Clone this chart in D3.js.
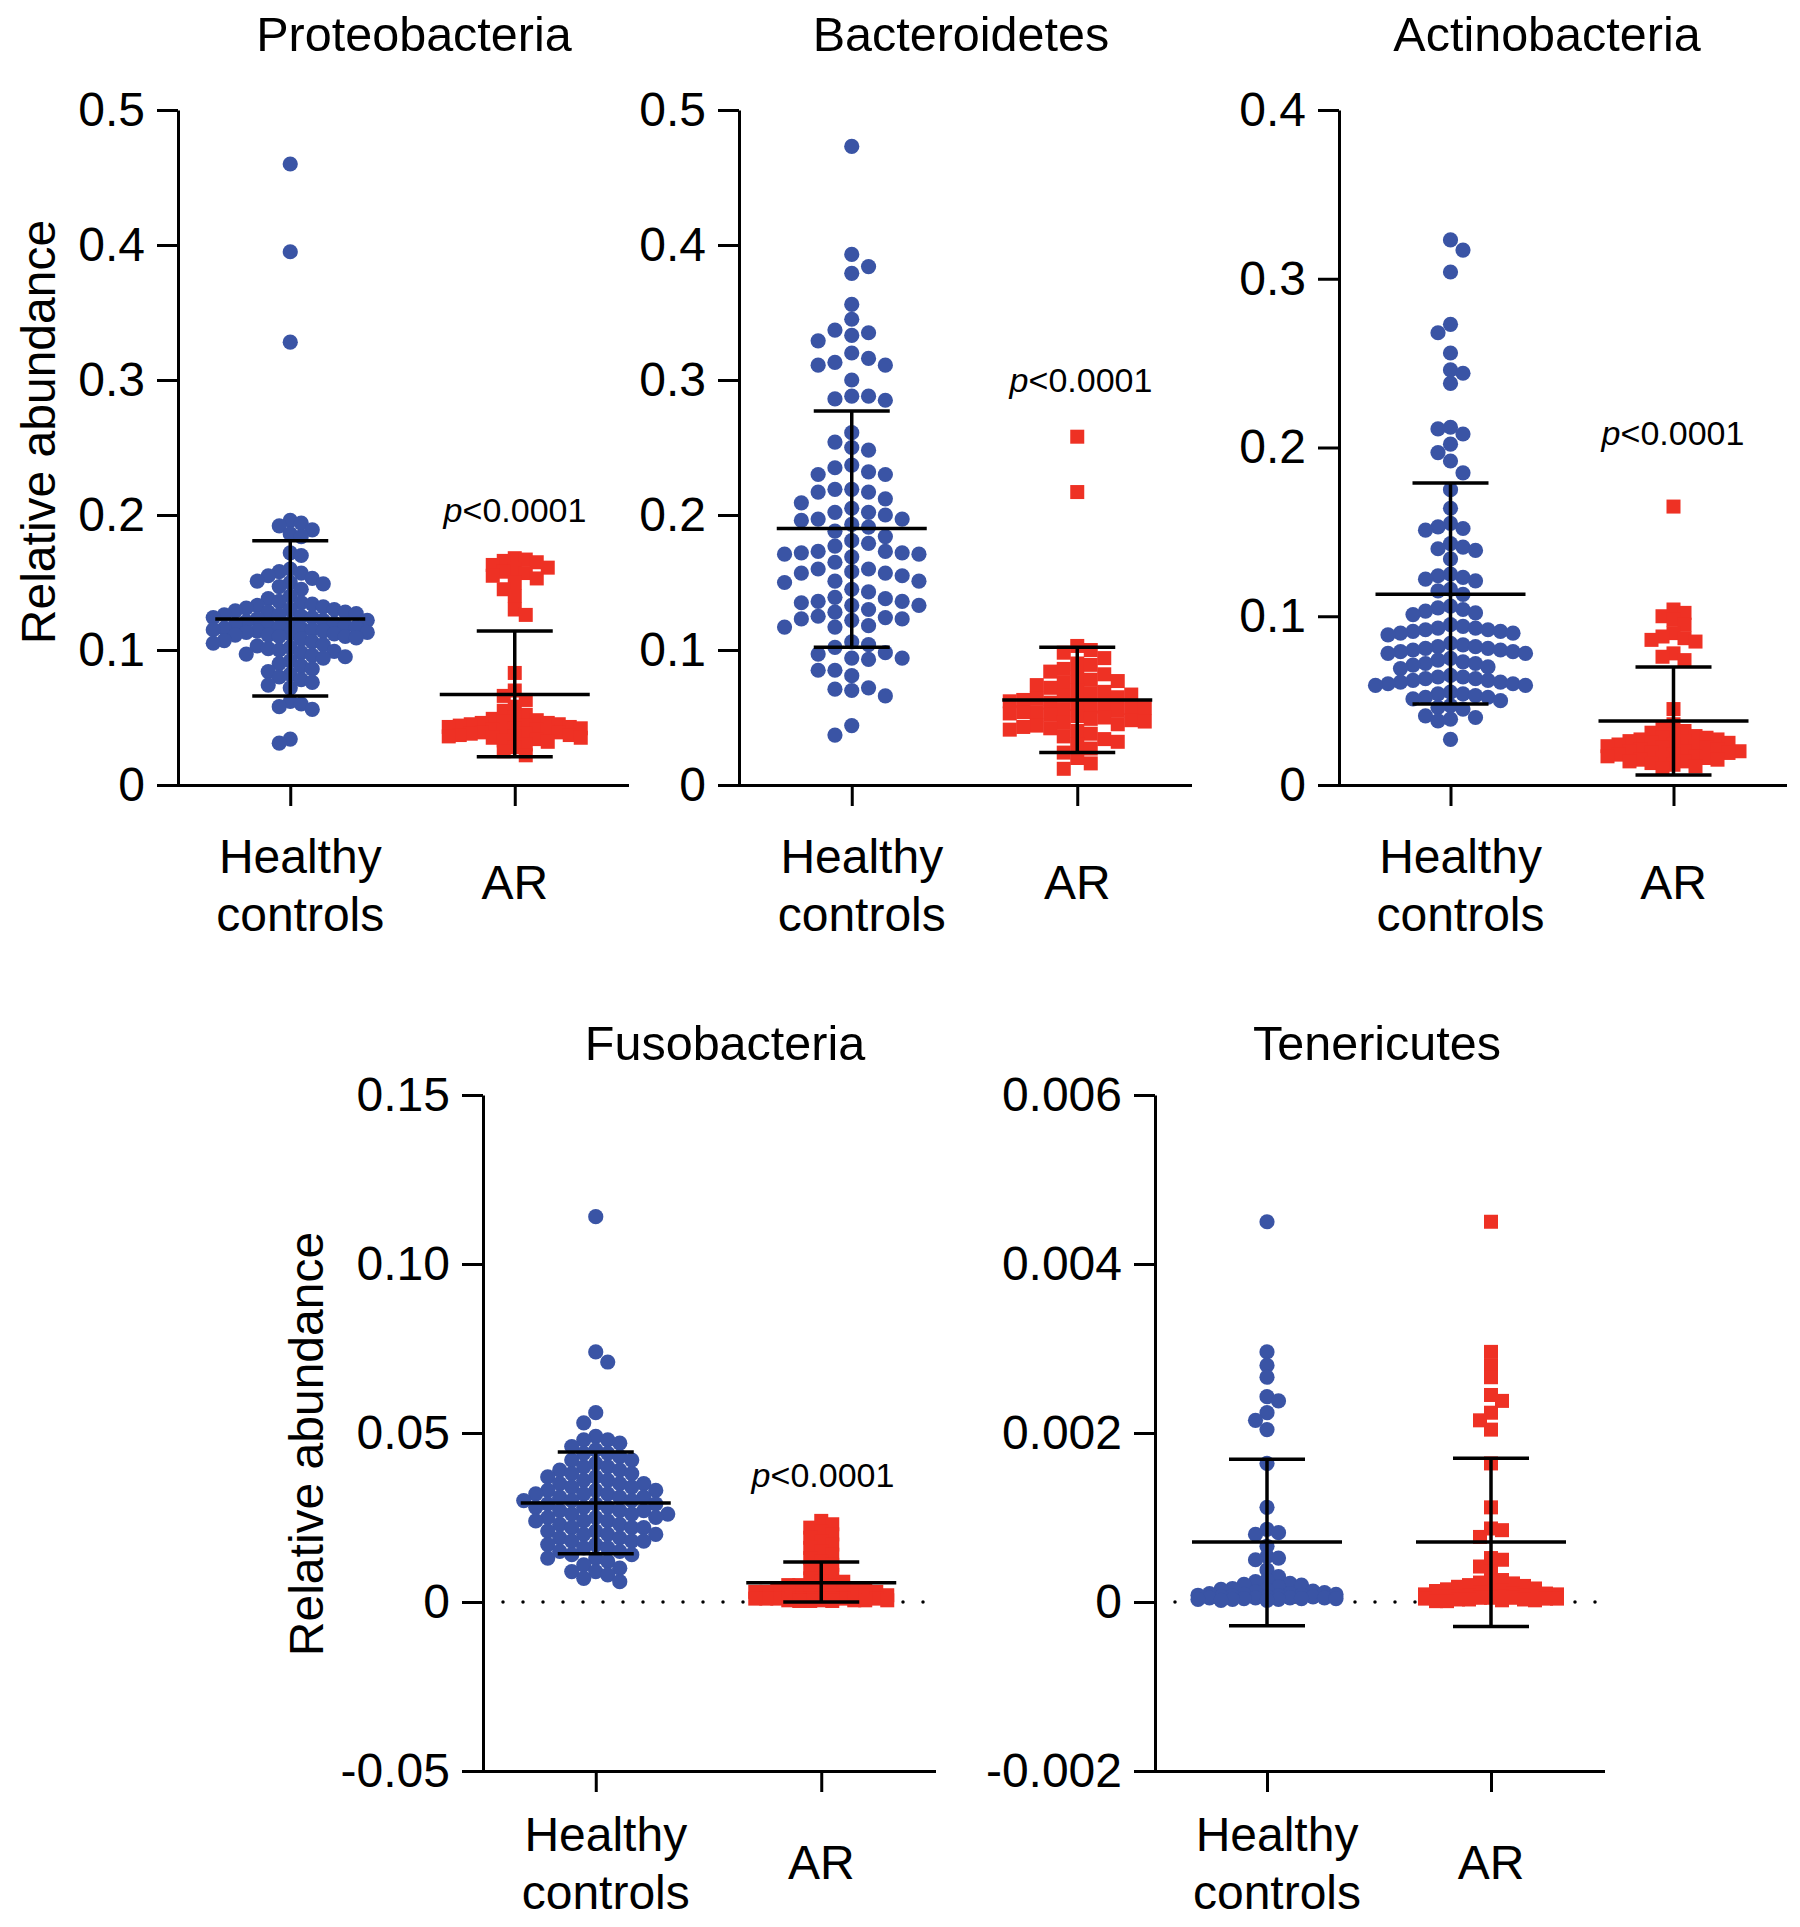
<!DOCTYPE html>
<html>
<head>
<meta charset="utf-8">
<script src="https://cdn.jsdelivr.net/npm/d3@7"></script>
<style>
  html, body { margin: 0; padding: 0; background: #fff; }
  svg { display: block; }
</style>
</head>
<body>
<script>
// ---------------- DATA ----------------
const categories = ["Healthy controls", "AR"];
const panelTitles = ["Proteobacteria", "Bacteroidetes", "Actinobacteria", "Fusobacteria", "Tenericutes"];
const yDomains = [[0, 0.5], [0, 0.5], [0, 0.4], [-0.05, 0.15], [-0.002, 0.006]];
const yTickValues = [
  [0, 0.1, 0.2, 0.3, 0.4, 0.5],
  [0, 0.1, 0.2, 0.3, 0.4, 0.5],
  [0, 0.1, 0.2, 0.3, 0.4],
  [-0.05, 0, 0.05, 0.10, 0.15],
  [-0.002, 0, 0.002, 0.004, 0.006]
];
const yTickLabels = [
  ["0", "0.1", "0.2", "0.3", "0.4", "0.5"],
  ["0", "0.1", "0.2", "0.3", "0.4", "0.5"],
  ["0", "0.1", "0.2", "0.3", "0.4"],
  ["-0.05", "0", "0.05", "0.10", "0.15"],
  ["-0.002", "0", "0.002", "0.004", "0.006"]
];
const pValueLabels = ["<0.0001", "<0.0001", "<0.0001", "<0.0001", null];
const yAxisTitle = "Relative abundance";

// mean and mean±SD: [Healthy controls, AR]
const meanValues  = [[0.123, 0.067], [0.190, 0.063], [0.113, 0.038], [0.0293, 0.0057], [0.00071, 0.00071]];
const sdUpper     = [[0.181, 0.114], [0.277, 0.102], [0.179, 0.070], [0.0444, 0.0118], [0.00169, 0.00170]];
const sdLower     = [[0.066, 0.021], [0.102, 0.024], [0.048, 0.006], [0.0143, 0.0000], [-0.00028, -0.00029]];

const hcProteobacteria = [0.460, 0.395, 0.328, 0.196, 0.194, 0.192, 0.189, 0.186, 0.184, 0.172, 0.170, 0.160, 0.158, 0.157, 0.155, 0.153, 0.151, 0.150, 0.149, 0.147, 0.145, 0.140, 0.138, 0.136, 0.135, 0.134, 0.133, 0.132, 0.131, 0.130, 0.130, 0.129, 0.128, 0.128, 0.127, 0.126, 0.126, 0.125, 0.124, 0.124, 0.123, 0.122, 0.122, 0.121, 0.120, 0.120, 0.119, 0.118, 0.118, 0.117, 0.117, 0.116, 0.116, 0.115, 0.115, 0.114, 0.114, 0.113, 0.113, 0.112, 0.112, 0.111, 0.111, 0.110, 0.110, 0.109, 0.108, 0.107, 0.106, 0.105, 0.104, 0.103, 0.102, 0.101, 0.100, 0.099, 0.098, 0.097, 0.096, 0.095, 0.094, 0.092, 0.090, 0.088, 0.086, 0.084, 0.082, 0.080, 0.078, 0.076, 0.074, 0.072, 0.062, 0.060, 0.058, 0.056, 0.034, 0.031];
const arProteobacteria = [0.168, 0.167, 0.166, 0.165, 0.163, 0.161, 0.160, 0.158, 0.157, 0.155, 0.153, 0.150, 0.145, 0.140, 0.130, 0.126, 0.083, 0.070, 0.066, 0.063, 0.058, 0.055, 0.052, 0.050, 0.049, 0.048, 0.047, 0.046, 0.046, 0.045, 0.045, 0.044, 0.044, 0.043, 0.043, 0.042, 0.042, 0.041, 0.041, 0.040, 0.040, 0.039, 0.039, 0.038, 0.038, 0.037, 0.037, 0.036, 0.036, 0.035, 0.035, 0.034, 0.033, 0.032, 0.030, 0.028, 0.025, 0.022];

const hcBacteroidetes = [0.473, 0.393, 0.384, 0.379, 0.356, 0.345, 0.335, 0.333, 0.329, 0.337, 0.316, 0.313, 0.311, 0.311, 0.320, 0.300, 0.288, 0.285, 0.288, 0.286, 0.261, 0.254, 0.250, 0.248, 0.235, 0.232, 0.237, 0.230, 0.230, 0.219, 0.217, 0.219, 0.217, 0.212, 0.202, 0.205, 0.209, 0.196, 0.193, 0.197, 0.200, 0.202, 0.191, 0.197, 0.188, 0.184, 0.179, 0.181, 0.173, 0.169, 0.172, 0.172, 0.177, 0.173, 0.171, 0.171, 0.165, 0.158, 0.157, 0.151, 0.151, 0.155, 0.145, 0.160, 0.150, 0.157, 0.160, 0.136, 0.135, 0.136, 0.133, 0.139, 0.138, 0.143, 0.133, 0.128, 0.130, 0.123, 0.124, 0.125, 0.117, 0.117, 0.123, 0.122, 0.118, 0.097, 0.104, 0.093, 0.094, 0.098, 0.106, 0.094, 0.102, 0.081, 0.085, 0.085, 0.070, 0.066, 0.071, 0.072, 0.044, 0.037];
const arBacteroidetes = [0.258, 0.217, 0.103, 0.100, 0.098, 0.094, 0.090, 0.089, 0.086, 0.084, 0.082, 0.080, 0.078, 0.077, 0.076, 0.074, 0.072, 0.070, 0.069, 0.068, 0.067, 0.066, 0.065, 0.064, 0.063, 0.062, 0.061, 0.060, 0.059, 0.058, 0.057, 0.057, 0.056, 0.055, 0.054, 0.054, 0.053, 0.052, 0.051, 0.050, 0.049, 0.048, 0.047, 0.046, 0.045, 0.044, 0.043, 0.042, 0.041, 0.040, 0.038, 0.036, 0.034, 0.032, 0.030, 0.027, 0.024, 0.020, 0.016, 0.012];

const hcActinobacteria = [0.323, 0.317, 0.304, 0.273, 0.268, 0.256, 0.246, 0.244, 0.238, 0.212, 0.211, 0.208, 0.202, 0.197, 0.192, 0.185, 0.175, 0.164, 0.155, 0.153, 0.152, 0.151, 0.143, 0.141, 0.140, 0.139, 0.134, 0.125, 0.124, 0.123, 0.122, 0.121, 0.116, 0.115, 0.113, 0.106, 0.105, 0.104, 0.103, 0.102, 0.101, 0.095, 0.094, 0.093, 0.093, 0.092, 0.092, 0.091, 0.091, 0.090, 0.090, 0.089, 0.084, 0.083, 0.082, 0.082, 0.081, 0.081, 0.080, 0.080, 0.079, 0.079, 0.078, 0.078, 0.075, 0.074, 0.073, 0.072, 0.072, 0.071, 0.070, 0.069, 0.065, 0.064, 0.064, 0.063, 0.063, 0.062, 0.062, 0.061, 0.061, 0.060, 0.060, 0.059, 0.059, 0.055, 0.054, 0.054, 0.053, 0.052, 0.052, 0.051, 0.050, 0.047, 0.046, 0.045, 0.041, 0.040, 0.039, 0.038, 0.027];
const arActinobacteria = [0.165, 0.104, 0.102, 0.100, 0.098, 0.095, 0.090, 0.088, 0.087, 0.086, 0.085, 0.078, 0.076, 0.074, 0.045, 0.036, 0.034, 0.032, 0.031, 0.030, 0.029, 0.028, 0.028, 0.027, 0.027, 0.026, 0.026, 0.025, 0.025, 0.024, 0.024, 0.023, 0.023, 0.022, 0.022, 0.021, 0.021, 0.020, 0.020, 0.020, 0.019, 0.019, 0.018, 0.018, 0.017, 0.017, 0.016, 0.016, 0.015, 0.015, 0.014, 0.014, 0.013, 0.012, 0.011, 0.010];

const hcFusobacteria = [0.114, 0.074, 0.071, 0.056, 0.053, 0.049, 0.048, 0.048, 0.047, 0.046, 0.045, 0.044, 0.044, 0.043, 0.042, 0.042, 0.041, 0.040, 0.040, 0.039, 0.039, 0.038, 0.038, 0.037, 0.037, 0.036, 0.036, 0.035, 0.035, 0.035, 0.034, 0.034, 0.033, 0.033, 0.033, 0.032, 0.032, 0.032, 0.031, 0.031, 0.031, 0.030, 0.030, 0.030, 0.029, 0.029, 0.029, 0.028, 0.028, 0.028, 0.027, 0.027, 0.027, 0.026, 0.026, 0.026, 0.025, 0.025, 0.025, 0.024, 0.024, 0.024, 0.023, 0.023, 0.022, 0.022, 0.022, 0.021, 0.021, 0.020, 0.020, 0.020, 0.019, 0.019, 0.018, 0.018, 0.018, 0.017, 0.017, 0.016, 0.016, 0.015, 0.015, 0.014, 0.014, 0.013, 0.013, 0.012, 0.011, 0.010, 0.009, 0.009, 0.008, 0.007, 0.006];
const arFusobacteria = [0.024, 0.023, 0.022, 0.021, 0.020, 0.019, 0.018, 0.017, 0.016, 0.015, 0.014, 0.013, 0.012, 0.011, 0.010, 0.009, 0.008, 0.007, 0.006, 0.006, 0.005, 0.005, 0.005, 0.004, 0.004, 0.004, 0.004, 0.003, 0.003, 0.003, 0.003, 0.003, 0.002, 0.002, 0.002, 0.002, 0.002, 0.002, 0.002, 0.001, 0.001, 0.001, 0.001, 0.001, 0.001, 0.001, 0.001, 0.001, 0.0005, 0.0005, 0.0005, 0.0005, 0.0005, 0.0003, 0.0003, 0.0003];

const hcTenericutes = [0.0045, 0.00296, 0.0028, 0.00266, 0.00243, 0.00238, 0.00224, 0.00215, 0.00204, 0.00164, 0.00112, 0.00086, 0.00082, 0.0008, 0.00066, 0.00054, 0.00052, 0.0005, 0.00038, 0.0003, 0.00026, 0.00024, 0.00022, 0.00021, 0.0002, 0.00018, 0.00016, 0.00015, 0.00014, 0.00013, 0.00012, 0.00011, 0.0001, 0.0001, 0.00009, 0.00009, 0.00008, 0.00008, 0.00007, 0.00007, 0.00006, 0.00006, 0.00006, 0.00005, 0.00005, 0.00005, 0.00005, 0.00004, 0.00004, 0.00004, 0.00003, 0.00003, 0.00003, 0.00002, 0.00002];
const arTenericutes = [0.0045, 0.00296, 0.0028, 0.00266, 0.00245, 0.00238, 0.00224, 0.00215, 0.00204, 0.00164, 0.00112, 0.00087, 0.00085, 0.00077, 0.00052, 0.0005, 0.00042, 0.00036, 0.00026, 0.00024, 0.00023, 0.00022, 0.0002, 0.00019, 0.00018, 0.00016, 0.00015, 0.00014, 0.00013, 0.00012, 0.00011, 0.0001, 0.0001, 0.00009, 0.00009, 0.00008, 0.00008, 0.00007, 0.00007, 0.00006, 0.00006, 0.00006, 0.00005, 0.00005, 0.00005, 0.00004, 0.00004, 0.00004, 0.00003, 0.00003, 0.00003, 0.00002, 0.00002, 0.00001, 0.00001];

const groupValues = [
  [hcProteobacteria, arProteobacteria],
  [hcBacteroidetes, arBacteroidetes],
  [hcActinobacteria, arActinobacteria],
  [hcFusobacteria, arFusobacteria],
  [hcTenericutes, arTenericutes]
];

// ---------------- LAYOUT ----------------
const W = 1800, H = 1927;
const FONT = "'Liberation Sans', Arial, Helvetica, sans-serif";
const BLUE = "#3a54a5", RED = "#ee3124";
const R = 7.6, SQ = 14;
// swarm settings per panel: [column step, min vertical gap, max columns each side]
const layout = [
  { x0: 178,  x1: 627,  top: 110,  bot: 785,  title: [414, 51],   yLab: [55, 432],   p: [515, 522],  row: 0, hcSw: [11, 12.5, 7],   arSw: [11, 10, 6] },
  { x0: 739,  x1: 1190, top: 110,  bot: 785,  title: [961, 51],   yLab: null,        p: [1081, 392], row: 0, hcSw: [16.8, 14, 4],   arSw: [13.5, 13.5, 5] },
  { x0: 1339, x1: 1785, top: 110,  bot: 785,  title: [1547, 51],  yLab: null,        p: [1673, 445], row: 0, hcSw: [12.5, 13, 6],   arSw: [11, 10, 6] },
  { x0: 483,  x1: 934,  top: 1095, bot: 1771, title: [725, 1060], yLab: [323, 1444], p: [823, 1487], row: 1, hcSw: [12, 13, 6],     arSw: [11, 10, 6] },
  { x0: 1155, x1: 1603, top: 1095, bot: 1771, title: [1377, 1060], yLab: null,       p: null,        row: 1, hcSw: [11.5, 10, 6],   arSw: [11, 10, 6] }
];
const catLabelY = [ { h: 873, c: 931, ar: 899 }, { h: 1851, c: 1909, ar: 1879 } ];

const svg = d3.select("body").append("svg").attr("width", W).attr("height", H)
  .style("font-family", FONT);

function swarm(vals, y, cx, sw) {
  const [step, thresh, K] = sw;
  const pts = vals.map(v => ({ v, py: y(v) })).sort((a, b) => a.py - b.py);
  const placed = [];
  let flip = false;
  for (const p of pts) {
    const order = [0];
    for (let k = 1; k <= K; k++) order.push(flip ? -k : k, flip ? k : -k);
    let best = 0, bestClear = -1;
    for (const c of order) {
      let clear = Infinity;
      for (const q of placed) if (q.c === c) { const d = Math.abs(q.py - p.py); if (d < clear) clear = d; }
      if (clear >= thresh) { best = c; break; }
      if (clear > bestClear + 0.5) { bestClear = clear; best = c; }
    }
    p.c = best;
    if (best !== 0) flip = !flip;
    placed.push(p);
  }
  return placed.map(p => ({ v: p.v, py: p.py, px: cx + p.c * step }));
}

layout.forEach((L, i) => {
  const g = svg.append("g");
  const y = d3.scaleLinear().domain(yDomains[i]).range([L.bot, L.top]);
  const x = d3.scalePoint().domain(categories).range([L.x0, L.x1]).padding(0.5);

  // dotted zero line
  if (yDomains[i][0] < 0) {
    g.append("line")
      .attr("x1", L.x0 + 20).attr("x2", L.x1).attr("y1", y(0)).attr("y2", y(0))
      .attr("stroke", "#000").attr("stroke-width", 3.5)
      .attr("stroke-linecap", "round").attr("stroke-dasharray", "0 20");
  }

  // points
  const hc = swarm(groupValues[i][0], y, x(categories[0]), L.hcSw);
  const ar = swarm(groupValues[i][1], y, x(categories[1]), L.arSw);
  g.append("g").selectAll("circle").data(hc).join("circle")
    .attr("cx", d => d.px).attr("cy", d => d.py).attr("r", R).attr("fill", BLUE);
  g.append("g").selectAll("rect").data(ar).join("rect")
    .attr("x", d => d.px - SQ / 2).attr("y", d => d.py - SQ / 2)
    .attr("width", SQ).attr("height", SQ).attr("fill", RED);

  // error bars
  categories.forEach((c, j) => {
    const cx = x(c);
    const eb = g.append("g").attr("stroke", "#000").attr("stroke-width", 3.5);
    eb.append("line").attr("x1", cx).attr("x2", cx).attr("y1", y(sdLower[i][j])).attr("y2", y(sdUpper[i][j]));
    eb.append("line").attr("x1", cx - 75).attr("x2", cx + 75).attr("y1", y(meanValues[i][j])).attr("y2", y(meanValues[i][j]));
    eb.append("line").attr("x1", cx - 38).attr("x2", cx + 38).attr("y1", y(sdUpper[i][j])).attr("y2", y(sdUpper[i][j]));
    eb.append("line").attr("x1", cx - 38).attr("x2", cx + 38).attr("y1", y(sdLower[i][j])).attr("y2", y(sdLower[i][j]));
  });

  // y axis
  const ya = g.append("g").attr("transform", `translate(${L.x0},0)`)
    .call(d3.axisLeft(y).tickValues(yTickValues[i]).tickFormat((d, k) => yTickLabels[i][k])
      .tickSize(21).tickSizeOuter(0).tickPadding(12));
  ya.selectAll("path, line").attr("stroke", "#000").attr("stroke-width", 3);
  ya.selectAll("text").attr("font-size", 48).attr("font-family", FONT).attr("fill", "#000");

  // x axis
  const xa = g.append("g").attr("transform", `translate(0,${L.bot})`)
    .call(d3.axisBottom(x).tickSize(21).tickSizeOuter(0).tickFormat(""));
  xa.selectAll("path, line").attr("stroke", "#000").attr("stroke-width", 3);
  xa.select("path").attr("stroke-linecap", "square");

  // category labels
  const cy = catLabelY[L.row];
  g.append("text").attr("x", x(categories[0]) + 10).attr("y", cy.h).attr("text-anchor", "middle")
    .attr("font-size", 48).text(categories[0].split(" ")[0]);
  g.append("text").attr("x", x(categories[0]) + 10).attr("y", cy.c).attr("text-anchor", "middle")
    .attr("font-size", 48).text(categories[0].split(" ")[1]);
  g.append("text").attr("x", x(categories[1])).attr("y", cy.ar).attr("text-anchor", "middle")
    .attr("font-size", 48).text(categories[1]);

  // title
  g.append("text").attr("x", L.title[0]).attr("y", L.title[1]).attr("text-anchor", "middle")
    .attr("font-size", 48.5).text(panelTitles[i]);

  // y-axis title
  if (L.yLab) {
    g.append("text").attr("transform", `translate(${L.yLab[0]},${L.yLab[1]}) rotate(-90)`)
      .attr("text-anchor", "middle").attr("font-size", 48).text(yAxisTitle);
  }

  // p value
  if (L.p && pValueLabels[i]) {
    const t = g.append("text").attr("x", L.p[0]).attr("y", L.p[1]).attr("text-anchor", "middle")
      .attr("font-size", 34);
    t.append("tspan").attr("font-style", "italic").text("p");
    t.append("tspan").text(pValueLabels[i]);
  }
});
</script>
</body>
</html>
